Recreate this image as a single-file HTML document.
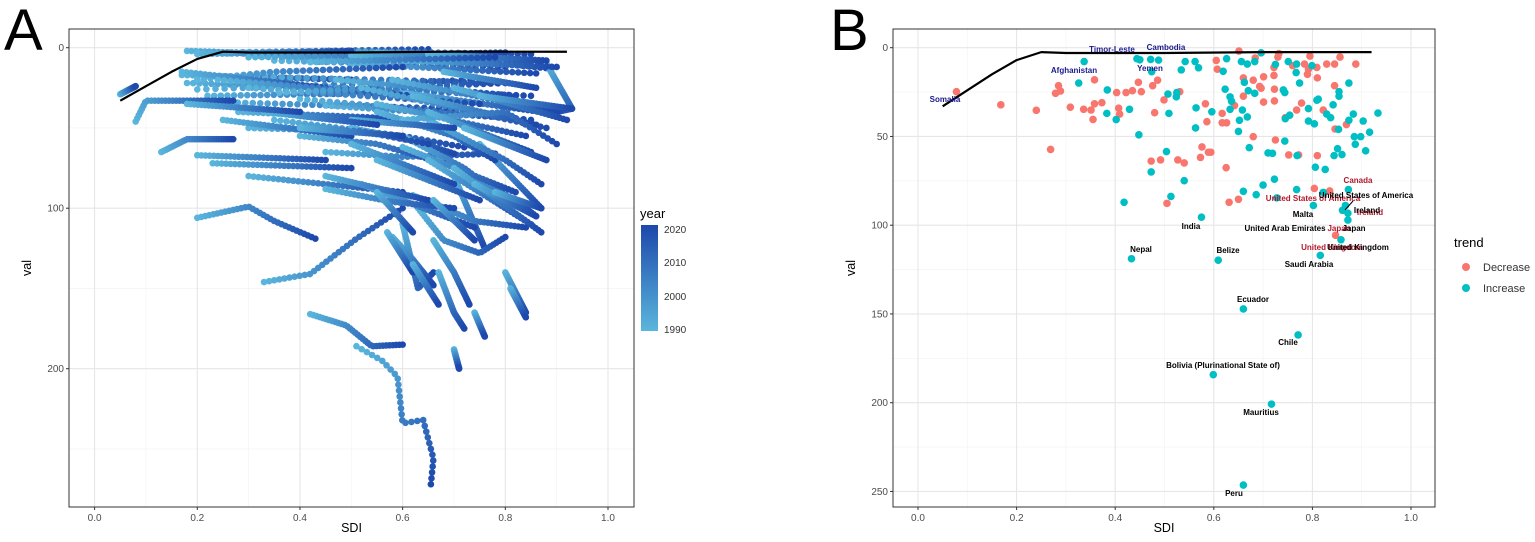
<!DOCTYPE html>
<html><head><meta charset="utf-8"><style>
body{margin:0;background:#fff}
svg{display:block;font-family:"Liberation Sans",sans-serif}
</style></head><body>
<svg id="svg" width="1535" height="542" viewBox="0 0 1535 542">
<text x="4" y="50" font-size="58" fill="#000">A</text>
<text x="830" y="50" font-size="58" fill="#000">B</text>
<g id="pa"></g>
<g id="pb"></g>
<g>
<text x="640" y="218" font-size="13" fill="#000">year</text>
<defs><linearGradient id="yg" x1="0" y1="1" x2="0" y2="0"><stop offset="0" stop-color="#5ab6dc"/><stop offset="1" stop-color="#1d48ac"/></linearGradient></defs>
<rect x="641" y="225" width="17" height="106" fill="url(#yg)"/>
<text x="664" y="233" font-size="10" fill="#333">2020</text>
<text x="664" y="266" font-size="10" fill="#333">2010</text>
<text x="664" y="300" font-size="10" fill="#333">2000</text>
<text x="664" y="333" font-size="10" fill="#333">1990</text>
</g>
<g>
<text x="1454" y="247" font-size="13" fill="#000">trend</text>
<circle cx="1466" cy="267" r="4" fill="#F8766D"/>
<text x="1483" y="271" font-size="11" fill="#333">Decrease</text>
<circle cx="1466" cy="288" r="4" fill="#00BFC4"/>
<text x="1483" y="292" font-size="11" fill="#333">Increase</text>
</g>
</svg>
<script>
const NS="http://www.w3.org/2000/svg";
// ---- Panel A data: trajectories as waypoint lists (sdi, val), 1990 -> 2021
const trajSdi=[
[0.05,0.08],[0.18,0.45],[0.25,0.65],[0.45,0.85],[0.30,0.84],[0.20,0.60],[0.40,0.88],[0.55,0.89],[0.35,0.80],[0.50,0.86],
[0.17,0.50],[0.18,0.55],[0.20,0.75],[0.30,0.80],[0.22,0.62],[0.40,0.85],[0.25,0.70],[0.45,0.82],[0.60,0.87],[0.28,0.58],
[0.08,0.10,0.27],[0.13,0.18,0.27],[0.20,0.30,0.35,0.43],[0.33,0.42,0.51,0.60],[0.42,0.49,0.54,0.60],
[0.51,0.56,0.59,0.60,0.64,0.66,0.655],[0.45,0.60,0.78],[0.20,0.45],[0.23,0.50],[0.30,0.60],
[0.75,0.87],[0.70,0.76],[0.60,0.63,0.66],[0.70,0.71],[0.80,0.84],[0.63,0.68,0.75,0.80],[0.88,0.93,0.90],
[0.35,0.60,0.72],[0.50,0.62,0.70],[0.55,0.70,0.78],[0.60,0.72,0.80],[0.65,0.80,0.87],[0.40,0.55,0.68],[0.30,0.52,0.65],
[0.58,0.62,0.66],[0.66,0.70,0.73],[0.52,0.64,0.74],[0.70,0.82,0.86],[0.62,0.74,0.84],[0.45,0.58,0.70],
[0.20,0.50],[0.30,0.70],[0.50,0.80],[0.60,0.90],[0.65,0.88],[0.42,0.78],[0.20,0.35,0.60],
[0.17,0.45],[0.24,0.62],[0.30,0.75],[0.36,0.80],[0.40,0.85],[0.47,0.82],[0.52,0.88],[0.55,0.84],[0.58,0.90],[0.62,0.86],
[0.60,0.80,0.90],[0.65,0.85],[0.50,0.70],[0.33,0.55],[0.18,0.40],[0.25,0.50],[0.40,0.60],[0.70,0.92],[0.75,0.93],[0.68,0.86],[0.72,0.88],
[0.50,0.70],[0.55,0.75],[0.60,0.82],[0.65,0.85],[0.70,0.87],[0.74,0.86],[0.45,0.65],[0.55,0.62],[0.66,0.74],[0.78,0.87],
[0.57,0.60,0.62],[0.62,0.65,0.67],[0.67,0.70,0.72],[0.74,0.76],[0.81,0.84]
];
const trajVal=[
[29,24],[2,5],[3,1],[2,4],[5,8],[3,6],[6,10],[3,13],[8,12],[10,16],
[17,20],[22,26],[26,20],[18,22],[30,28],[24,30],[34,38],[36,44],[28,40],[40,44],
[46,33,33],[65,57,57],[106,99,108,119],[146,141,119,100],[166,173,186,185],
[186,195,205,234,232,256,272],[65,68,66],[67,70],[72,75],[80,90],
[60,100],[80,125],[110,150,140],[188,200],[140,165],[100,120,128,118],[10,38,40],
[45,55,62],[50,58,66],[40,55,70],[55,75,95],[45,70,85],[55,60,72],[50,52,60],
[118,132,148],[120,140,160],[85,100,112],[75,95,105],[92,108,112],[88,96,100],
[4,2],[6,4],[5,3],[8,12],[4,8],[9,6],[20,15,12],
[15,25],[20,30],[25,35],[28,22],[32,45],[20,30],[25,50],[35,55],[20,40],[30,48],
[45,40,60],[40,65],[45,50],[40,48],[35,40],[45,55],[50,55],[25,45],[30,38],[15,25],[50,70],
[60,85],[70,95],[62,90],[70,110],[75,115],[85,105],[80,95],[90,115],[95,120],[90,100],
[115,130,140],[135,150,160],[140,165,175],[165,180],[150,168]
];
// ---- Panel B data
const decSdi=[.078,.168,.240,.269,.279,.285,.289,.309,.336,.351,.358,.355,.358,.373,.403,.407,.409,.422,.435,.447,.453,.476,.480,.486,.499,.473,.492,.505,.527,.540,.531,.573,.576,.583,.586,.589,.594,.605,.607,.617,.617,.626,.642,.625,.631,.650,.651,.660,.660,.680,.680,.684,.693,.696,.701,.701,.722,.722,.723,.723,.725,.730,.732,.745,.760,.768,.778,.784,.790,.792,.795,.809,.810,.810,.804,.822,.829,.835,.845,.845,.846,.847,.856,.869,.888,.752,.772];
const decVal=[24.8,32.2,35.3,57.3,25.7,21.4,24.4,33.5,34.7,35.1,18.1,40.4,31.6,31.0,25.3,34.1,37.4,25.3,24.2,19.5,24.8,21.4,36.6,18.3,29.4,63.9,63.2,87.7,63.2,64.9,24.8,61.8,55.9,31.6,41.7,58.9,58.9,7.2,12.1,37.0,42.3,42.3,32.6,67.6,87.1,85.4,1.9,17.0,27.3,50.1,18.3,5.8,21.8,22.8,30.6,16.4,11.1,15.6,23.4,30.0,52.0,5.3,3.3,39.4,10.1,35.1,31.2,9.2,15.0,12.1,4.7,11.1,17.0,60.8,79.3,35.1,9.2,80.7,9.2,21.4,45.8,105.7,5.3,43.3,9.2,60.4,60.4];
const incSdi=[.337,.326,.384,.383,.402,.418,.429,.444,.450,.448,.472,.474,.473,.488,.504,.507,.509,.513,.524,.525,.534,.540,.542,.562,.564,.563,.569,.575,.596,.619,.623,.626,.633,.636,.633,.650,.652,.656,.658,.660,.662,.668,.668,.670,.672,.683,.683,.686,.696,.700,.710,.719,.723,.725,.728,.741,.744,.744,.745,.751,.754,.767,.768,.769,.774,.768,.792,.792,.799,.802,.804,.806,.809,.812,.816,.822,.826,.829,.837,.842,.844,.851,.853,.854,.854,.860,.861,.858,.867,.872,.872,.873,.874,.874,.883,.885,.887,.898,.903,.908,.916,.933,.433,.609,.660,.771,.599,.717,.660];
const incVal=[7.8,19.9,23.8,37.0,40.5,87.1,34.7,6.2,6.8,49.1,6.6,13.5,70.0,7.0,58.5,26.1,37.0,83.8,27.7,25.3,12.5,74.9,7.8,7.8,33.9,45.2,11.3,95.5,36.1,13.3,23.4,6.2,27.7,30.2,34.7,47.2,40.9,7.8,35.1,80.9,19.5,39.0,9.2,24.2,56.3,25.7,7.8,82.8,2.9,77.4,59.3,59.5,74.1,9.4,84.6,23.8,25.3,52.6,40.0,7.8,38.0,14.0,79.9,60.8,19.9,9.2,34.3,41.3,10.1,88.9,42.9,67.3,29.6,29.0,117.0,81.5,68.6,37.4,39.4,32.2,60.8,56.9,46.0,24.8,27.3,60.2,91.6,108.2,88.9,97.1,93.2,79.9,19.9,40.9,37.4,50.1,54.4,50.1,41.3,58.1,47.6,36.8,118.9,119.7,147.2,161.8,184.2,200.8,246.4];
const fitSdi=[0.05,0.10,0.15,0.20,0.25,0.30,0.50,0.70,0.92];
const fitVal=[33,24,15,7,2.5,3,3,2.5,2.5];
const xTicks=[0,0.2,0.4,0.6,0.8,1.0];
const aYTicks=[0,100,200];
const bYTicks=[0,50,100,150,200,250];

const svg=document.getElementById('svg');
function mk(tag,attrs,parent){const e=document.createElementNS(NS,tag);for(const k in attrs)e.setAttribute(k,attrs[k]);parent.appendChild(e);return e;}
function axes(g,L,R,T,B,xs,ys,yMaj,yMin,pfx){
  mk('rect',{x:L,y:T,width:R-L,height:B-T,fill:'#fff'},g);
  [0.1,0.3,0.5,0.7,0.9].forEach(v=>mk('line',{x1:xs(v),x2:xs(v),y1:T,y2:B,stroke:'#f2f2f2','stroke-width':0.6},g));
  yMin.forEach(v=>mk('line',{x1:L,x2:R,y1:ys(v),y2:ys(v),stroke:'#f2f2f2','stroke-width':0.6},g));
  xTicks.forEach(v=>{mk('line',{x1:xs(v),x2:xs(v),y1:T,y2:B,stroke:'#e6e6e6','stroke-width':1.1},g);
    mk('line',{x1:xs(v),x2:xs(v),y1:B,y2:B+3,stroke:'#333'},g);
    const t=mk('text',{x:xs(v),y:B+14,'font-size':10,fill:'#4d4d4d','text-anchor':'middle'},g);t.textContent=v.toFixed(1);
    
    });
  yMaj.forEach(v=>{mk('line',{x1:L,x2:R,y1:ys(v),y2:ys(v),stroke:'#e6e6e6','stroke-width':1.1},g);
    mk('line',{x1:L-3,x2:L,y1:ys(v),y2:ys(v),stroke:'#333'},g);
    const t=mk('text',{x:L-5,y:ys(v)+3.5,'font-size':10,fill:'#4d4d4d','text-anchor':'end'},g);t.textContent=v;
    
    });
  const xt=mk('text',{x:(L+R)/2,y:532,'font-size':12.5,fill:'#000','text-anchor':'middle'},g);xt.textContent='SDI';
  
  
  const yt=mk('text',{x:0,y:0,'font-size':12.5,fill:'#000','text-anchor':'middle',transform:`translate(${L-38},${(T+B)/2}) rotate(-90)`},g);yt.textContent='val';
  
  
}
function fitLine(g,xs,ys){
  let d='';fitSdi.forEach((s,i)=>{d+=(i?'L':'M')+xs(s)+','+ys(fitVal[i]);});
  const p=mk('path',{d:d,fill:'none',stroke:'#000','stroke-width':2.2,'stroke-linejoin':'round'},g);
  
  
}
// Panel A
const xA=s=>94.6+s*513.4, yA=v=>47.7+v*1.605;
const ga=document.getElementById('pa');
axes(ga,69,634,29,507,xA,yA,aYTicks,[50,150,250],'a');
function lerpC(t){const a=[90,182,220],b=[29,72,172];return `rgb(${a.map((c,i)=>Math.round(c+(b[i]-c)*t)).join(',')})`;}
trajSdi.forEach((xsArr,k)=>{
  const ysArr=trajVal[k];const pts=xsArr.map((s,i)=>[xA(s),yA(ysArr[i])]);
  const segs=[];let tot=0;for(let i=1;i<pts.length;i++){const l=Math.hypot(pts[i][0]-pts[i-1][0],pts[i][1]-pts[i-1][1]);segs.push(l);tot+=l;}
  const N=32;
  for(let j=0;j<N;j++){let d=tot*j/(N-1),i=0;while(i<segs.length-1&&d>segs[i]){d-=segs[i];i++;}
    const f=segs[i]?Math.min(1,d/segs[i]):0;
    const c=mk('circle',{cx:pts[i][0]+(pts[i+1][0]-pts[i][0])*f,cy:pts[i][1]+(pts[i+1][1]-pts[i][1])*f,r:3.3,fill:lerpC(j/(N-1))},ga);
    
    }
});
fitLine(ga,xA,yA);
mk('rect',{x:69,y:29,width:565,height:478,fill:'none',stroke:'#333','stroke-width':1},ga);
// Panel B
const xB=s=>918+s*493, yB=v=>47.7+v*1.775;
const gb=document.getElementById('pb');
axes(gb,893,1435,29,507,xB,yB,bYTicks,[25,75,125,175,225],'b');
decSdi.forEach((s,i)=>{const c=mk('circle',{cx:xB(s),cy:yB(decVal[i]),r:3.8,fill:'#F8766D'},gb);
  
  });
incSdi.forEach((s,i)=>{const c=mk('circle',{cx:xB(s),cy:yB(incVal[i]),r:3.8,fill:'#00BFC4'},gb);
  
  });
fitLine(gb,xB,yB);
const labels=[["Somalia",945,102,"#1a1a8c"],["Afghanistan",1074,73,"#1a1a8c"],["Timor-Leste",1112,52,"#1a1a8c"],["Cambodia",1166,50,"#1a1a8c"],["Yemen",1150,71,"#1a1a8c"],
["Canada",1358,183,"#b2182b"],["United States of America",1313,201,"#b2182b"],["United States of America",1366,198,"#000"],["Malta",1303,217,"#000"],
["Ireland",1370,215,"#b2182b"],["Ireland",1367,213,"#000"],["India",1191,229,"#000"],["United Arab Emirates",1285,231,"#000"],["Japan",1339,231,"#b2182b"],["Japan",1354,231,"#000"],
["Nepal",1141,252,"#000"],["Belize",1228,253,"#000"],["United Kingdom",1332,250,"#b2182b"],["United Kingdom",1358,250,"#000"],["Saudi Arabia",1309,267,"#000"],
["Ecuador",1253,302,"#000"],["Chile",1288,345,"#000"],["Bolivia (Plurinational State of)",1223,368,"#000"],["Mauritius",1261,415,"#000"],["Peru",1234,496,"#000"]];
labels.forEach(l=>{const t=mk('text',{x:l[1],y:l[2],'font-size':8,'font-weight':'bold',fill:l[3],'text-anchor':'middle'},gb);t.textContent=l[0];
  
  });
mk('line',{x1:1345,y1:210,x2:1353,y2:201,stroke:'#000','stroke-width':1},gb);
mk('rect',{x:893,y:29,width:542,height:478,fill:'none',stroke:'#333','stroke-width':1},gb);
</script>
</body></html>
